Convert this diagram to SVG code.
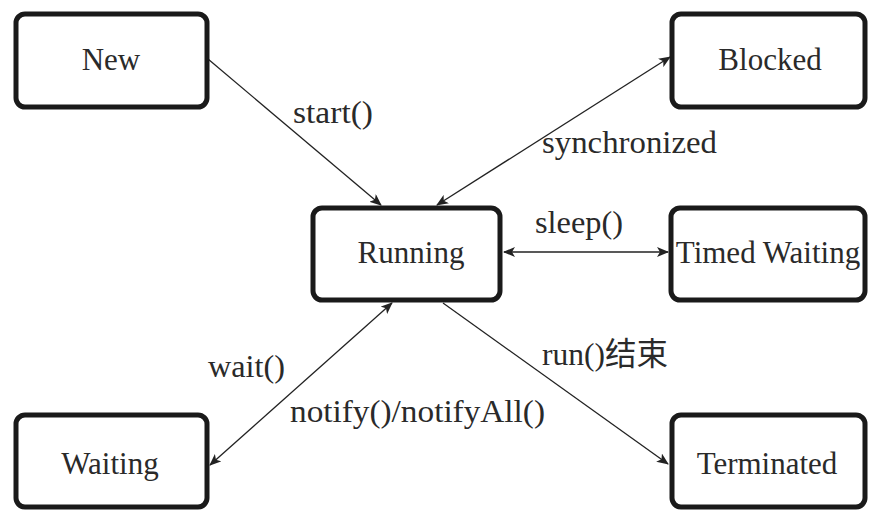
<svg xmlns="http://www.w3.org/2000/svg" width="870" height="512" viewBox="0 0 870 512">
<defs>
<style>
.box{fill:#fff;stroke:#1a1a1a;stroke-width:5}
.t{font-family:"Liberation Serif","Times New Roman","Noto Sans CJK SC",serif;font-size:31px;fill:#2a2a2a}
.l{font-size:32px}
.c{text-anchor:middle}
.ln{stroke:#222;stroke-width:1.3;fill:none}
</style>
<marker id="ah" viewBox="0 0 12 10" refX="11" refY="5" markerWidth="12" markerHeight="10" markerUnits="userSpaceOnUse" orient="auto-start-reverse">
<path d="M0,0 L12,5 L0,10 L3,5 Z" fill="#222"/>
</marker>
</defs>
<rect width="870" height="512" fill="#fff"/>
<g id="connectors">
<line class="ln" x1="208" y1="59" x2="381" y2="205" marker-end="url(#ah)"/>
<line class="ln" x1="437" y1="205" x2="670" y2="57" marker-start="url(#ah)" marker-end="url(#ah)"/>
<line class="ln" x1="504" y1="252" x2="668" y2="252" marker-start="url(#ah)" marker-end="url(#ah)"/>
<line class="ln" x1="392" y1="303" x2="210" y2="465" marker-start="url(#ah)" marker-end="url(#ah)"/>
<line class="ln" x1="443" y1="303" x2="668" y2="464" marker-end="url(#ah)"/>
<text class="t l" x="293" y="123" textLength="80" lengthAdjust="spacingAndGlyphs">start()</text>
<text class="t l" x="542" y="153" textLength="175" lengthAdjust="spacingAndGlyphs">synchronized</text>
<text class="t l" x="535" y="233" textLength="88" lengthAdjust="spacingAndGlyphs">sleep()</text>
<text class="t l" x="542" y="365" textLength="126" lengthAdjust="spacingAndGlyphs">run()结束</text>
<text class="t l" x="208" y="377" textLength="77" lengthAdjust="spacingAndGlyphs">wait()</text>
<text class="t l" x="290" y="422" textLength="255" lengthAdjust="spacingAndGlyphs">notify()/notifyAll()</text>
</g>
<g id="new"><rect class="box" x="16" y="14" width="191" height="93" rx="9"/><text class="t c" x="111" y="70">New</text></g>
<g id="blocked"><rect class="box" x="672" y="14" width="193" height="93" rx="9"/><text class="t c" x="770" y="70">Blocked</text></g>
<g id="running"><rect class="box" x="313" y="208" width="187" height="92" rx="9"/><text class="t c" x="411" y="263">Running</text></g>
<g id="timed-waiting"><rect class="box" x="671" y="208" width="194" height="92" rx="9"/><text class="t c" x="768" y="263">Timed Waiting</text></g>
<g id="waiting"><rect class="box" x="16" y="415" width="191" height="92" rx="9"/><text class="t c" x="110" y="474">Waiting</text></g>
<g id="terminated"><rect class="box" x="672" y="415" width="193" height="92" rx="9"/><text class="t c" x="767" y="474">Terminated</text></g>
</svg>
